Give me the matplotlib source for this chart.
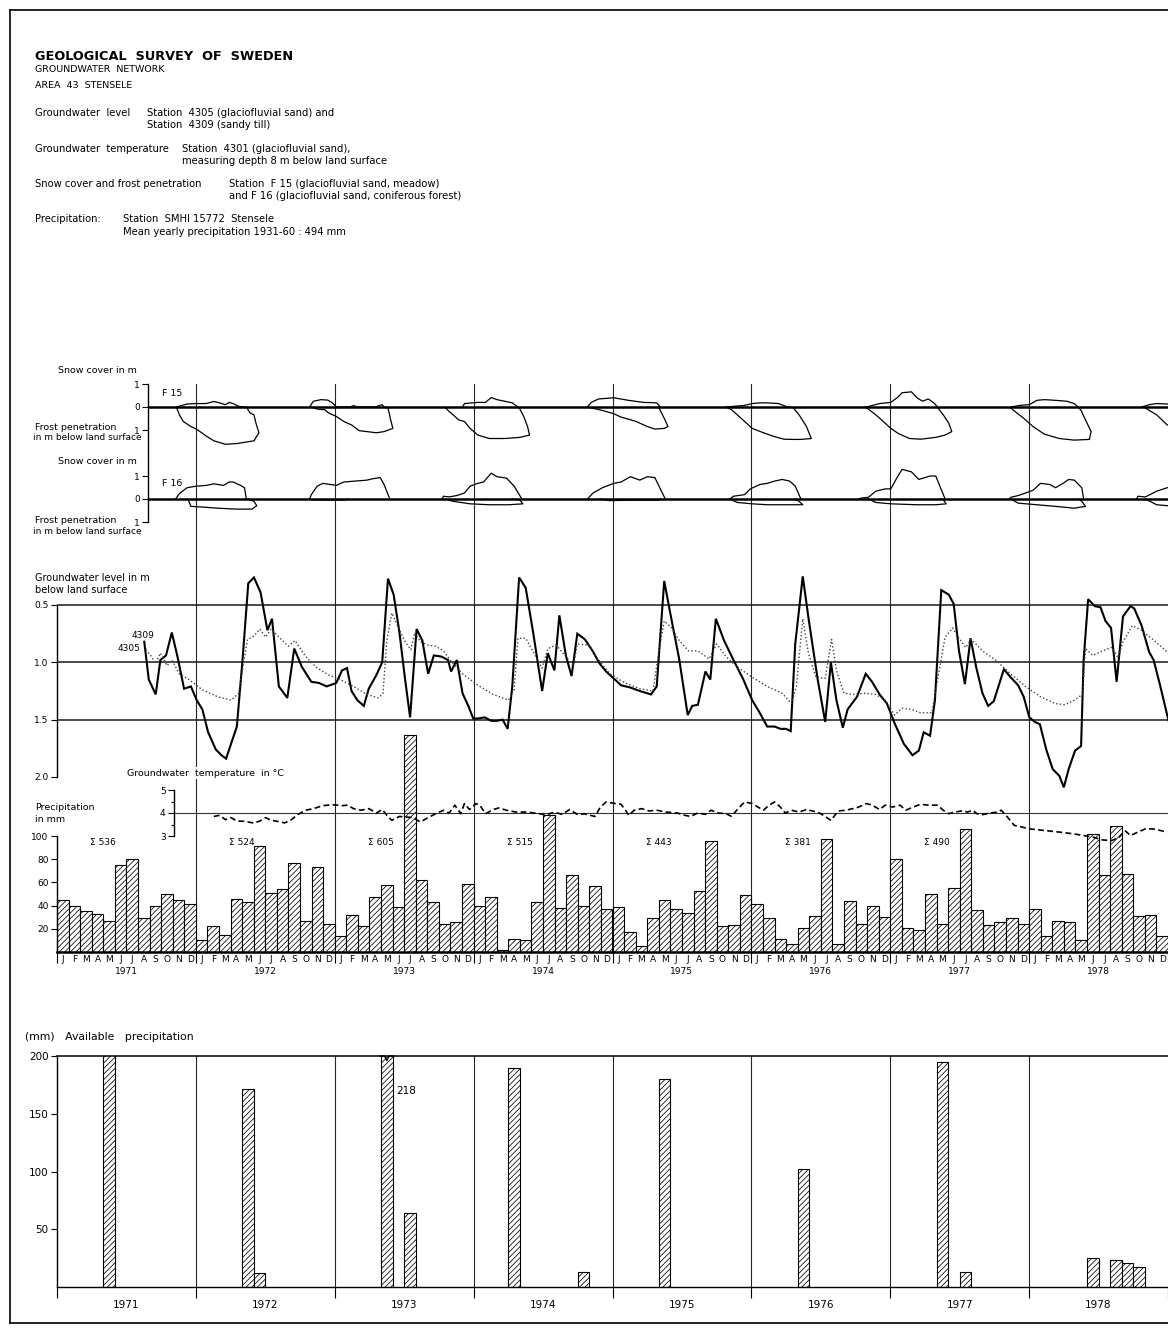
import numpy as np
import matplotlib
matplotlib.use("Agg")
import matplotlib.pyplot as plt
from matplotlib.lines import Line2D

# ---------------- data (time in months since Jan 1971) ----------------
months = list("JFMAMJJASOND")
years = [1971, 1972, 1973, 1974, 1975, 1976, 1977, 1978]

# monthly precipitation, mm
p1971 = [45, 40, 35, 33, 27, 75, 80, 29, 40, 50, 45, 41]
p1972 = [10, 22, 15, 46, 43, 91, 51, 54, 77, 27, 73, 24]
p1973 = [14, 32, 22, 47, 58, 39, 187, 62, 43, 24, 26, 59]
p1974 = [40, 47, 2, 11, 10, 43, 118, 38, 66, 40, 57, 37]
p1975 = [39, 17, 5, 29, 45, 37, 34, 53, 96, 22, 23, 49]
p1976 = [41, 29, 11, 7, 21, 31, 97, 7, 44, 24, 40, 30]
p1977 = [80, 21, 19, 50, 24, 55, 106, 36, 23, 26, 29, 24]
p1978 = [37, 14, 27, 26, 10, 102, 66, 109, 67, 31, 32, 14]
year_sums = [536, 524, 605, 515, 443, 381, 490]

# available precipitation (month index, mm)
avail_month = [4, 16, 17, 28, 30, 39, 45, 52, 64, 76, 78, 89, 91, 92, 93]
avail_mm = [201, 171, 12, 218, 64, 190, 13, 180, 102, 195, 13, 25, 23, 21, 17]

# groundwater level, m below land surface
gw4309 = [(7.54, 0.82), (7.93, 1.15), (8.53, 1.28), (8.93, 0.98), (9.42, 0.94), (9.92, 0.74),
          (10.41, 0.95), (10.98, 1.23), (11.57, 1.21), (12.07, 1.33), (12.56, 1.41), (13.06, 1.61),
          (13.72, 1.76), (14.21, 1.81), (14.61, 1.84), (15.04, 1.71), (15.54, 1.56), (16.03, 0.98),
          (16.53, 0.31), (17.02, 0.26), (17.59, 0.39), (18.18, 0.72), (18.58, 0.62), (19.17, 1.21),
          (19.9, 1.31), (20.5, 0.88), (21.16, 1.04), (21.98, 1.17), (22.64, 1.18), (23.3, 1.21),
          (24.13, 1.18), (24.63, 1.07), (25.06, 1.05), (25.45, 1.25), (25.95, 1.33), (26.51, 1.38),
          (26.94, 1.23), (27.6, 1.11), (28.1, 1.0), (28.6, 0.27), (29.09, 0.41), (29.59, 0.74),
          (30.08, 1.15), (30.51, 1.48), (31.07, 0.71), (31.57, 0.81), (32.07, 1.1), (32.56, 0.94),
          (33.22, 0.95), (33.79, 0.98), (34.05, 1.08), (34.55, 0.98), (35.04, 1.27), (35.54, 1.38),
          (35.97, 1.49), (36.36, 1.49), (36.96, 1.48), (37.52, 1.51), (38.02, 1.51), (38.51, 1.5),
          (38.94, 1.58), (39.34, 1.21), (39.93, 0.26), (40.5, 0.35), (41.16, 0.75), (41.92, 1.25),
          (42.41, 0.92), (42.98, 1.07), (43.41, 0.59), (43.97, 0.94), (44.46, 1.12), (44.96, 0.75),
          (45.62, 0.8), (46.28, 0.9), (46.88, 1.01), (47.45, 1.08), (48.74, 1.2), (49.55, 1.22),
          (50.36, 1.25), (51.33, 1.28), (51.82, 1.21), (52.47, 0.29), (52.95, 0.55), (53.76, 0.97),
          (54.5, 1.46), (54.89, 1.38), (55.38, 1.37), (56.03, 1.08), (56.45, 1.15), (56.93, 0.62),
          (57.64, 0.81), (58.45, 0.98), (59.26, 1.14), (60.07, 1.33), (60.72, 1.44), (61.37, 1.56),
          (62.01, 1.56), (62.5, 1.58), (62.98, 1.58), (63.4, 1.6), (63.79, 0.84), (64.44, 0.25),
          (64.93, 0.61), (65.73, 1.15), (66.38, 1.52), (66.87, 1.0), (67.35, 1.33), (67.9, 1.57),
          (68.32, 1.41), (69.13, 1.3), (69.88, 1.1), (70.43, 1.17), (71.08, 1.28), (71.72, 1.36),
          (72.37, 1.53), (73.17, 1.71), (73.92, 1.81), (74.47, 1.77), (74.89, 1.61), (75.44, 1.64),
          (75.86, 1.33), (76.41, 0.37), (77.06, 0.41), (77.48, 0.49), (77.94, 0.9), (78.45, 1.19),
          (78.94, 0.79), (79.42, 1.04), (79.97, 1.27), (80.46, 1.38), (80.94, 1.34), (81.82, 1.06),
          (82.4, 1.13), (83.05, 1.2), (83.53, 1.3), (84.02, 1.48), (84.5, 1.52), (84.93, 1.54),
          (85.48, 1.76), (86.03, 1.93), (86.61, 1.99), (87.0, 2.09), (87.42, 1.93), (87.97, 1.77),
          (88.49, 1.73), (88.71, 0.98), (89.1, 0.45), (89.68, 0.51), (90.17, 0.52), (90.6, 0.64),
          (91.08, 0.7), (91.56, 1.17), (92.11, 0.6), (92.76, 0.51), (93.08, 0.53), (93.72, 0.68),
          (94.37, 0.91), (94.76, 0.98), (95.34, 1.21), (95.93, 1.46), (96.3, 1.6)]

gw4305 = [(7.67, 0.89), (8.1, 0.94), (8.53, 1.01), (8.93, 0.92), (9.52, 1.03), (9.92, 0.98),
          (10.58, 1.1), (11.4, 1.15), (12.56, 1.24), (13.88, 1.3), (15.04, 1.33), (15.7, 1.27),
          (16.46, 0.8), (17.02, 0.77), (17.52, 0.71), (18.02, 0.78), (18.51, 0.71), (19.17, 0.78),
          (19.99, 0.86), (20.56, 0.81), (21.49, 0.95), (22.48, 1.05), (23.47, 1.11), (24.46, 1.15),
          (25.62, 1.21), (26.78, 1.28), (27.77, 1.31), (28.17, 1.27), (28.5, 0.81), (28.93, 0.57),
          (29.42, 0.68), (30.08, 0.82), (30.58, 0.89), (30.91, 0.74), (31.4, 0.82), (32.07, 0.85),
          (32.73, 0.86), (33.39, 0.9), (34.05, 0.99), (35.04, 1.1), (36.36, 1.2), (37.69, 1.28),
          (39.01, 1.33), (39.5, 1.24), (39.83, 0.79), (40.5, 0.79), (41.16, 0.91), (41.92, 1.05),
          (42.41, 0.88), (43.14, 0.85), (43.97, 0.95), (44.63, 1.03), (44.96, 0.84), (45.95, 0.85),
          (46.48, 0.94), (47.77, 1.1), (49.07, 1.18), (50.36, 1.23), (51.5, 1.25), (51.98, 0.92),
          (52.47, 0.64), (53.11, 0.7), (53.76, 0.81), (54.57, 0.9), (55.38, 0.9), (56.35, 0.97),
          (56.99, 0.84), (57.81, 0.95), (58.78, 1.04), (60.07, 1.13), (61.37, 1.21), (62.66, 1.27),
          (63.47, 1.36), (63.89, 1.21), (64.44, 0.62), (64.93, 0.92), (65.57, 1.13), (66.38, 1.14),
          (66.93, 0.8), (67.35, 1.07), (68.0, 1.27), (68.81, 1.28), (69.78, 1.27), (70.75, 1.28),
          (71.56, 1.33), (72.37, 1.46), (73.02, 1.4), (73.82, 1.41), (74.63, 1.44), (75.6, 1.44),
          (76.09, 1.15), (76.74, 0.78), (77.39, 0.7), (77.87, 0.78), (78.52, 0.87), (79.0, 0.8),
          (79.97, 0.9), (81.1, 0.98), (82.4, 1.1), (83.69, 1.21), (84.98, 1.3), (86.28, 1.36),
          (87.09, 1.37), (87.9, 1.33), (88.61, 1.28), (88.87, 0.88), (89.52, 0.94), (90.33, 0.9),
          (91.14, 0.87), (91.69, 0.96), (92.11, 0.82), (92.92, 0.68), (93.72, 0.72), (94.69, 0.8),
          (95.93, 0.91), (96.3, 0.95)]

# groundwater temperature, deg C
gw_temp = [(13.55, 3.85), (14.05, 3.9), (14.55, 3.71), (15.04, 3.8), (15.54, 3.65), (16.2, 3.64),
           (17.02, 3.56), (17.52, 3.65), (18.02, 3.8), (18.51, 3.68), (19.01, 3.64), (19.67, 3.57),
           (20.17, 3.68), (20.83, 3.94), (21.49, 4.12), (22.15, 4.19), (22.98, 4.32), (23.8, 4.36),
           (24.63, 4.32), (25.12, 4.34), (25.62, 4.19), (26.28, 4.12), (26.94, 4.19), (27.6, 4.0),
           (28.1, 4.15), (28.5, 3.9), (28.93, 3.68), (29.59, 3.85), (30.74, 3.8), (31.4, 3.61),
           (32.07, 3.8), (32.73, 3.97), (33.39, 4.12), (33.88, 4.0), (34.38, 4.34), (34.88, 3.97),
           (35.21, 4.41), (35.64, 4.15), (36.2, 4.41), (36.53, 4.34), (37.03, 3.97), (37.69, 4.15),
           (38.18, 4.22), (38.84, 4.12), (39.67, 4.04), (40.66, 4.04), (41.65, 3.97), (42.31, 3.93),
           (42.98, 4.04), (43.64, 3.94), (44.3, 4.15), (44.96, 3.94), (45.6, 3.96), (46.1, 3.9),
           (46.48, 3.85), (46.96, 4.26), (47.45, 4.48), (48.26, 4.41), (48.74, 4.38), (49.23, 4.04),
           (49.39, 3.9), (49.88, 4.12), (50.52, 4.19), (51.17, 4.09), (51.82, 4.12), (52.63, 4.04),
           (53.6, 4.0), (54.25, 3.9), (54.73, 3.85), (55.38, 4.0), (56.03, 3.94), (56.51, 4.12),
           (57.16, 4.0), (57.81, 3.97), (58.29, 3.85), (58.78, 4.15), (59.42, 4.48), (60.07, 4.41),
           (60.56, 4.26), (61.04, 4.12), (61.53, 4.34), (62.01, 4.48), (62.5, 4.26), (62.92, 4.0),
           (63.47, 4.12), (64.12, 4.04), (64.76, 4.15), (65.25, 4.09), (65.73, 4.04), (66.22, 3.9),
           (66.87, 3.68), (67.51, 4.09), (68.16, 4.12), (69.13, 4.23), (69.94, 4.41), (70.43, 4.34),
           (71.08, 4.15), (71.56, 4.34), (72.21, 4.26), (72.85, 4.34), (73.34, 4.12), (73.99, 4.26),
           (74.63, 4.38), (75.28, 4.34), (76.09, 4.34), (76.58, 4.12), (77.06, 3.97), (77.55, 4.04),
           (78.19, 4.09), (78.68, 4.04), (79.1, 4.12), (79.49, 3.97), (79.97, 3.93), (80.62, 4.0),
           (81.27, 4.04), (81.59, 4.12), (82.08, 3.85), (82.72, 3.46), (83.37, 3.39), (84.02, 3.31),
           (85.31, 3.24), (86.61, 3.17), (87.9, 3.09), (88.71, 3.02), (89.52, 2.95), (90.33, 2.83),
           (91.14, 2.8), (91.79, 2.95), (92.27, 3.24), (92.76, 3.02), (93.4, 3.17), (94.05, 3.31),
           (94.69, 3.31), (95.34, 3.24), (95.93, 3.17)]

# snow cover / frost penetration outlines per winter, m
f15_snow = [
    [(10.31, 0), (11.24, 0.13), (12.07, 0.15), (12.89, 0.15), (13.55, 0.24), (14.05, 0.18), (14.55, 0.1),
     (14.88, 0.2), (15.21, 0.15), (15.7, 0.03), (16.2, 0)],
    [(21.82, 0), (22.15, 0.25), (22.81, 0.32), (23.4, 0.3), (23.8, 0.18), (24.13, 0), (25.3, 0), (25.62, 0.06),
     (25.95, 0), (27.5, 0), (27.77, 0.05), (28.1, 0.1), (28.26, 0)],
    [(35.04, 0), (35.21, 0.15), (36.36, 0.2), (37.02, 0.2), (37.52, 0.41), (38.02, 0.32), (38.68, 0.25),
     (39.34, 0.18), (39.83, 0)],
    [(45.83, 0), (46.16, 0.2), (46.8, 0.35), (48.1, 0.4), (49.39, 0.29), (50.69, 0.2), (51.82, 0.18), (52.14, 0)],
    [(57.81, 0), (59.42, 0.07), (60.07, 0.15), (60.72, 0.18), (61.37, 0.18), (62.34, 0.15), (62.98, 0.03), (63.15, 0)],
    [(69.94, 0), (71.08, 0.15), (72.05, 0.2), (72.69, 0.44), (73.02, 0.62), (73.83, 0.66), (74.31, 0.4),
     (74.8, 0.25), (75.28, 0.35), (75.77, 0.18), (76.09, 0)],
    [(82.4, 0), (83.21, 0.07), (84.02, 0.1), (84.67, 0.29), (85.31, 0.32), (86.28, 0.29), (87.26, 0.25),
     (87.9, 0.15), (88.23, 0)],
    [(93.73, 0), (94.38, 0.1), (95.02, 0.15), (95.93, 0.13), (96.96, 0.1)],
]
f15_frost = [
    [(10.31, 0), (10.58, 0.34), (10.91, 0.63), (11.57, 0.85), (12.07, 0.97), (12.89, 1.26), (13.55, 1.47),
     (14.55, 1.62), (15.54, 1.59), (16.53, 1.51), (17.02, 1.47), (17.45, 1.12), (17.19, 0.7), (17.02, 0.34),
     (16.69, 0.26), (16.36, 0)],
    [(21.98, 0), (22.48, 0.09), (23.14, 0.12), (23.47, 0.26), (24.13, 0.41), (24.79, 0.63), (25.45, 0.78),
     (26.12, 1.03), (26.78, 1.07), (27.6, 1.12), (28.26, 1.07), (29.02, 0.93), (28.83, 0.56), (28.6, 0.04),
     (28.26, 0)],
    [(33.49, 0), (33.88, 0.19), (34.38, 0.41), (34.71, 0.56), (35.21, 0.63), (35.7, 0.93), (36.36, 1.22),
     (37.36, 1.37), (38.68, 1.37), (40.0, 1.32), (40.83, 1.22), (40.66, 0.85), (40.33, 0.41), (40.0, 0.09),
     (39.83, 0)],
    [(45.83, 0), (47.13, 0.15), (48.1, 0.29), (48.74, 0.44), (49.39, 0.53), (50.04, 0.63), (51.01, 0.85),
     (51.66, 0.96), (52.47, 0.93), (52.79, 0.85), (52.47, 0.49), (51.98, 0)],
    [(57.81, 0), (58.29, 0.12), (58.78, 0.34), (59.42, 0.63), (60.07, 0.93), (61.04, 1.12), (62.01, 1.29),
     (62.82, 1.4), (63.63, 1.41), (64.28, 1.41), (65.18, 1.37), (64.76, 0.85), (64.12, 0.34), (63.63, 0.04),
     (63.31, 0)],
    [(69.78, 0), (70.1, 0.09), (70.75, 0.34), (71.4, 0.63), (72.05, 0.93), (72.69, 1.15), (73.66, 1.37),
     (74.63, 1.4), (75.93, 1.32), (76.74, 1.22), (77.32, 1.07), (77.06, 0.71), (76.58, 0.34), (76.19, 0.09),
     (76.09, 0)],
    [(82.4, 0.04), (82.89, 0.24), (83.53, 0.49), (84.34, 0.85), (85.31, 1.18), (86.61, 1.37), (87.9, 1.44),
     (89.2, 1.41), (89.36, 1.07), (88.87, 0.56), (88.49, 0.15), (88.23, 0)],
    [(93.89, 0), (95.02, 0.34), (95.93, 0.78), (96.96, 0.9)],
]
f16_snow = [
    [(10.25, 0), (10.58, 0.24), (11.24, 0.49), (12.07, 0.56), (12.89, 0.59), (13.55, 0.66), (14.38, 0.59),
     (14.88, 0.74), (15.21, 0.74), (15.87, 0.59), (16.2, 0.49), (16.36, 0)],
    [(21.82, 0), (21.98, 0.19), (22.48, 0.56), (22.98, 0.68), (23.64, 0.63), (24.13, 0.59), (24.79, 0.74),
     (25.79, 0.78), (26.78, 0.82), (27.27, 0.88), (27.93, 0.93), (28.26, 0.63), (28.76, 0)],
    [(33.3, 0), (33.39, 0.12), (33.88, 0.09), (34.55, 0.15), (35.21, 0.26), (35.7, 0.56), (36.36, 0.68),
     (36.86, 0.74), (37.52, 1.12), (38.02, 0.97), (38.84, 0.91), (39.5, 0.56), (40.17, 0)],
    [(45.83, 0), (46.32, 0.26), (47.13, 0.49), (48.1, 0.68), (48.74, 0.74), (49.55, 0.97), (50.36, 0.82),
     (51.01, 0.97), (51.66, 0.93), (52.56, 0)],
    [(58.13, 0), (58.45, 0.12), (59.42, 0.19), (59.91, 0.44), (60.72, 0.63), (61.37, 0.68), (62.01, 0.78),
     (62.66, 0.85), (63.31, 0.78), (63.79, 0.56), (64.28, 0)],
    [(69.3, 0), (69.46, 0.04), (70.1, 0.07), (70.75, 0.34), (71.56, 0.44), (72.05, 0.44), (72.53, 0.88),
     (73.02, 1.29), (73.83, 1.18), (74.47, 0.85), (75.44, 1.0), (75.93, 1.0), (76.74, 0)],
    [(82.3, 0), (82.4, 0.07), (83.05, 0.15), (83.69, 0.26), (84.34, 0.38), (84.99, 0.68), (85.8, 0.63),
     (86.28, 0.49), (86.93, 0.68), (87.42, 0.85), (87.9, 0.82), (88.55, 0.49), (88.71, 0)],
    [(93.3, 0), (93.4, 0.12), (94.05, 0.09), (95.02, 0.34), (95.93, 0.49), (96.96, 0.5)],
]
f16_frost = [
    [(11.24, 0), (11.4, 0.1), (11.57, 0.32), (12.56, 0.35), (13.88, 0.4), (15.54, 0.44), (16.86, 0.44),
     (17.26, 0.29), (17.02, 0.1), (16.53, 0)],
    [(21.82, 0), (22.15, 0.04), (24.13, 0.05), (24.96, 0.04), (25.06, 0)],
    [(33.55, 0), (34.21, 0.1), (35.7, 0.21), (37.36, 0.25), (39.01, 0.25), (40.26, 0.21), (40.0, 0.05), (39.34, 0)],
    [(46.9, 0), (47.77, 0.07), (49.72, 0.05), (51.98, 0.05), (52.14, 0)],
    [(58.13, 0), (58.78, 0.15), (60.07, 0.21), (61.37, 0.25), (62.98, 0.25), (64.44, 0.25), (64.12, 0.1), (63.79, 0)],
    [(70.1, 0), (70.75, 0.15), (72.05, 0.21), (74.31, 0.25), (75.93, 0.25), (76.84, 0.21), (76.58, 0.03), (76.26, 0)],
    [(82.4, 0), (83.05, 0.18), (84.67, 0.25), (86.28, 0.32), (87.9, 0.4), (88.87, 0.32), (88.55, 0.1), (88.23, 0)],
    [(94.05, 0), (95.02, 0.25), (95.93, 0.29), (96.96, 0.3)],
]

# ---------------- layout helpers (pixel geometry of the sheet) ----------------
W, H = 1168, 1329
X0, X1 = 57, 1168
NM = 96

plt.rcParams['font.family'] = 'DejaVu Sans'
plt.rcParams['hatch.linewidth'] = 0.55
plt.rcParams['axes.linewidth'] = 1.0

fig = plt.figure(figsize=(W / 100, H / 100), dpi=100)


def tm(px):
    return (px - X0) * NM / (X1 - X0)


def panel(x0, ya, va, yb, vb, lo, hi):
    # axes whose value va sits at pixel row ya and vb at row yb
    s = (yb - ya) / (vb - va)
    p_lo = ya + (lo - va) * s
    p_hi = ya + (hi - va) * s
    top, bot = min(p_lo, p_hi), max(p_lo, p_hi)
    ax = fig.add_axes([x0 / W, 1 - bot / H, (X1 - x0) / W, (bot - top) / H])
    ax.patch.set_alpha(0)
    ax.set_xlim(tm(x0), NM)
    if p_lo > p_hi:
        ax.set_ylim(lo, hi)
    else:
        ax.set_ylim(hi, lo)
    for sp in ['top', 'right', 'bottom']:
        ax.spines[sp].set_visible(False)
    ax.set_xticks([])
    ax.tick_params(axis='y', direction='out', length=4, width=0.8, labelsize=6.5, pad=2)
    return ax


def ftext(x, y, s, size=7, **kw):
    fig.text(x / W, 1 - y / H, s, fontsize=size, va='center', **kw)


# ---------------- header ----------------
ftext(35, 56, "GEOLOGICAL  SURVEY  OF  SWEDEN", size=9.3, fontweight='bold')
ftext(35, 70, "GROUNDWATER  NETWORK", size=6.8)
ftext(35, 85, "AREA  43  STENSELE", size=6.8)
ftext(35, 113, "Groundwater  level", size=7.2)
ftext(147, 113, "Station  4305 (glaciofluvial sand) and", size=7.2)
ftext(147, 125, "Station  4309 (sandy till)", size=7.2)
ftext(35, 149, "Groundwater  temperature", size=7.2)
ftext(182, 149, "Station  4301 (glaciofluvial sand),", size=7.2)
ftext(182, 161, "measuring depth 8 m below land surface", size=7.2)
ftext(35, 184, "Snow cover and frost penetration", size=7.2)
ftext(229, 184, "Station  F 15 (glaciofluvial sand, meadow)", size=7.2)
ftext(229, 196, "and F 16 (glaciofluvial sand, coniferous forest)", size=7.2)
ftext(35, 219, "Precipitation:", size=7.2)
ftext(123, 219, "Station  SMHI 15772  Stensele", size=7.2)
ftext(123, 232, "Mean yearly precipitation 1931-60 : 494 mm", size=7.2)

# frame
for xs, ys in [([10, 10], [10, 1323]), ([10, W], [10, 10]), ([10, W], [1323, 1323])]:
    fig.add_artist(Line2D([x / W for x in xs], [1 - y / H for y in ys], color='k', lw=1.2))

# ---------------- year dividers through the middle block ----------------
ax_ov = fig.add_axes([X0 / W, 1 - 952 / H, (X1 - X0) / W, (952 - 384) / H])
ax_ov.set_xlim(0, NM)
ax_ov.axis('off')
for k in range(1, 8):
    ax_ov.axvline(12 * k, color='0.15', lw=0.8)

# ---------------- snow cover / frost penetration ----------------
ax15 = panel(148, 407, 0, 430, -1, -2.0, 1.25)
ax15.spines['left'].set_bounds(-2.0, 1)
ax16 = panel(148, 499, 0, 522, -1, -1.3, 1.95)
ax16.spines['left'].set_bounds(-1, 1.95)
for ax, snow, frost in [(ax15, f15_snow, f15_frost), (ax16, f16_snow, f16_frost)]:
    ax.set_yticks([-1, 0, 1])
    ax.set_yticklabels(['1', '0', '1'])
    ax.axhline(0, color='k', lw=1.8)
    for w in snow:
        t, v = zip(*w)
        ax.plot(t, v, color='k', lw=0.9)
    for w in frost:
        t, v = zip(*w)
        ax.plot(t, -np.array(v), color='k', lw=0.9)

ftext(58, 370, "Snow cover in m", size=6.8)
ftext(162, 393, "F 15", size=6.8)
ftext(35, 427, "Frost penetration", size=6.8)
ftext(33, 438, "in m below land surface", size=6.5)
ftext(58, 462, "Snow cover in m", size=6.8)
ftext(162, 484, "F 16", size=6.8)
ftext(35, 521, "Frost penetration", size=6.8)
ftext(33, 532, "in m below land surface", size=6.5)

# ---------------- groundwater level ----------------
axg = panel(X0, 605, 0.5, 777, 2.0, 0.2, 2.15)
axg.spines['left'].set_bounds(0.5, 2.0)
axg.set_yticks([0.5, 1.0, 1.5, 2.0])
axg.set_yticklabels(['0.5', '1.0', '1.5', '2.0'])
for lev in [0.5, 1.0, 1.5]:
    axg.axhline(lev, color='0.1', lw=1.1)
t, d = zip(*gw4309)
axg.plot(t, d, color='k', lw=1.5, solid_joinstyle='miter')
t, d = zip(*gw4305)
axg.plot(t, d, color='0.25', lw=1.0, linestyle=(0, (1, 1.6)))
ftext(35, 578, "Groundwater level in m", size=7)
ftext(35, 590, "below land surface", size=7)
ftext(132, 636, "4309", size=6.5)
ftext(118, 648, "4305", size=6.5)

# ---------------- precipitation ----------------
axp = panel(X0, 952, 0, 836, 100, 0, 110)
axp.spines['left'].set_bounds(0, 100)
axp.spines['bottom'].set_visible(True)
axp.spines['bottom'].set_linewidth(1.8)
axp.set_yticks([20, 40, 60, 80, 100])
prec = np.array(p1971 + p1972 + p1973 + p1974 + p1975 + p1976 + p1977 + p1978)
mid = np.arange(NM) + 0.5
axp.bar(mid, prec, width=1.0, color='white', edgecolor='k', lw=0.8,
        hatch='//////', clip_on=False, zorder=2)
axp.set_xticks(np.arange(0, NM + 1, 12))
axp.set_xticklabels([])
axp.tick_params(axis='x', which='major', direction='out', length=8, width=0.8)
axp.set_xticks(mid, minor=True)
axp.set_xticklabels(months * len(years), minor=True)
axp.tick_params(axis='x', which='minor', length=0, labelsize=6.5, pad=2)
for i, yr in enumerate(years):
    axp.annotate(str(yr), xy=(12 * i + 6, 0), xycoords=('data', 'axes fraction'),
                 xytext=(0, -14), textcoords='offset points', ha='center', va='center', fontsize=6.5)
for i, s in enumerate(year_sums):
    axp.text(12 * i + 4, 94, "\u03a3 %d" % s, fontsize=6.5, ha='center', va='center')
ftext(35, 808, "Precipitation", size=6.8)
ftext(35, 819, "in mm", size=6.8)

# ---------------- groundwater temperature ----------------
axt = panel(174, 813, 4, 836, 3, 2.5, 5.3)
axt.spines['left'].set_bounds(3, 5)
axt.set_yticks([3, 4, 5])
axt.set_yticks([3.5, 4.5], minor=True)
axt.tick_params(axis='y', which='minor', length=2.5, width=0.8)
axt.axhline(4, color='0.2', lw=0.8)
t, c = zip(*gw_temp)
axt.plot(t, c, color='k', lw=1.2, linestyle=(0, (3.5, 2)))
ftext(127, 773, "Groundwater  temperature  in \u00b0C", size=6.8,
      bbox=dict(facecolor='white', edgecolor='none', pad=1))

# ---------------- available precipitation ----------------
axa = panel(X0, 1287, 0, 1056, 200, 0, 200)
axa.spines['top'].set_visible(True)
axa.spines['bottom'].set_visible(True)
axa.spines['top'].set_linewidth(1.1)
axa.set_yticks([50, 100, 150, 200])
axa.tick_params(axis='y', labelsize=7.5, length=4)
axa.set_xticks(np.arange(0, NM + 1, 12))
axa.set_xticklabels([])
axa.tick_params(axis='x', direction='out', length=8, width=0.8)
for k in range(1, 8):
    axa.axvline(12 * k, color='0.15', lw=0.8)
axa.bar(np.array(avail_month) + 0.5, avail_mm, width=1.0, color='white', edgecolor='k',
        lw=0.8, hatch='//////', zorder=2)
# break mark on the bar that runs off scale
cut = avail_month[avail_mm.index(max(avail_mm))]
axa.plot([cut - 0.1, cut + 0.3, cut + 0.5, cut + 0.7, cut + 1.1], [200, 200, 196, 200, 200],
         color='k', lw=1.0, clip_on=False, zorder=3)
axa.text(cut + 1.35, 170, str(max(avail_mm)), fontsize=7.5, va='center')
for i, yr in enumerate(years):
    axa.annotate(str(yr), xy=(12 * i + 6, 0), xycoords=('data', 'axes fraction'),
                 xytext=(0, -13), textcoords='offset points', ha='center', va='center', fontsize=7.5)
ftext(25, 1037, "(mm)   Available   precipitation", size=7.8)

fig.savefig("out.png", dpi=100)
